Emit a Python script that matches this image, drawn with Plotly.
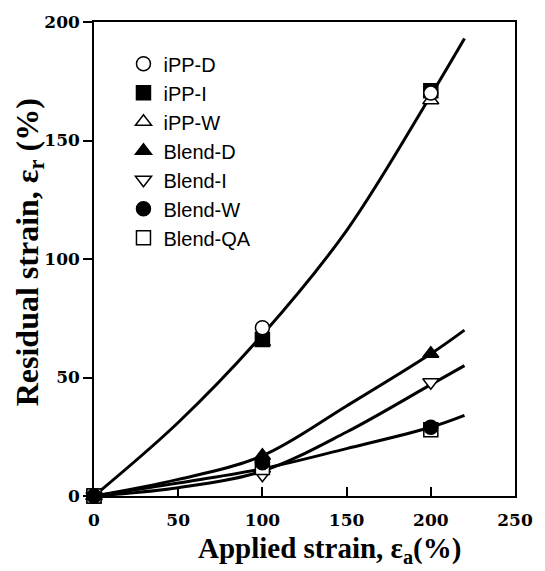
import plotly.graph_objects as go

# ---- data ----
applied_strain = [0, 100, 200]
ipp_d = [0, 71, 170]
ipp_i = [0, 66, 171]
ipp_w = [0, 65, 167]
blend_d = [0, 17, 60]
blend_i = [0, 9, 48]
blend_w = [0, 14, 29]
blend_qa = [0, 12, 28]

# smooth guide curves
curve_x = [0, 50, 100, 150, 200, 220]
curve_ipp = [0, 31, 68, 112, 169, 193]
curve_blend_d = [0, 7, 17, 38, 60, 70]
curve_blend_i = [0, 3.5, 10.5, 27, 47, 55]
curve_blend_w = [0, 5.5, 11.5, 20, 29, 34]

x_ticks = [0, 50, 100, 150, 200, 250]
y_ticks = [0, 50, 100, 150, 200]

fig = go.Figure()

for cy in [curve_ipp, curve_blend_d, curve_blend_i, curve_blend_w]:
    fig.add_trace(go.Scatter(x=curve_x, y=cy, mode="lines",
                             line=dict(color="black", width=3, shape="spline", smoothing=1.0),
                             showlegend=False, hoverinfo="skip", cliponaxis=False))

MS = 14
series = [
    # name, values, symbol, fill, rank
    ("iPP-W", ipp_w, "triangle-up", "white", 3),
    ("iPP-I", ipp_i, "square", "black", 2),
    ("iPP-D", ipp_d, "circle", "white", 1),
    ("Blend-D", blend_d, "triangle-up", "black", 4),
    ("Blend-I", blend_i, "triangle-down", "white", 5),
    ("Blend-QA", blend_qa, "square", "white", 7),
    ("Blend-W", blend_w, "circle", "black", 6),
]
for name, vals, sym, fill, rank in series:
    fig.add_trace(go.Scatter(x=applied_strain, y=vals, mode="markers", name=name,
                             legendrank=rank, cliponaxis=False,
                             marker=dict(symbol=sym, size=MS, color=fill,
                                         line=dict(color="black", width=1.5))))

tick_font = dict(family="DejaVu Serif", size=17, color="black", weight="bold")
fig.update_xaxes(range=[0, 250], tickvals=x_ticks, ticks="inside", ticklen=9, tickwidth=1.5,
                 tickcolor="black", showline=True, linecolor="black", linewidth=1.5,
                 mirror=True, showgrid=False, zeroline=False, tickfont=tick_font,
                 ticklabelstandoff=8)
fig.update_yaxes(range=[0, 200], tickvals=y_ticks, ticks="outside", ticklen=9, tickwidth=1.5,
                 tickcolor="black", showline=True, linecolor="black", linewidth=1.5,
                 mirror=True, showgrid=False, zeroline=False, tickfont=tick_font)

fig.add_annotation(text="<b>Applied strain, ε<sub>a</sub>(%)</b>", xref="paper", yref="paper",
                   x=0.56, y=-0.072, xanchor="center", yanchor="top", showarrow=False,
                   font=dict(family="Liberation Serif", size=29, color="black"))
fig.add_annotation(text="<b>Residual strain, ε<sub>r</sub> (%)</b>", xref="paper", yref="paper",
                   x=-0.1, y=0.515, xanchor="right", yanchor="middle", showarrow=False,
                   textangle=-90, font=dict(family="Liberation Serif", size=32, color="black"))

fig.update_layout(
    width=545, height=571,
    margin=dict(l=94, r=18, t=22, b=75),
    paper_bgcolor="white", plot_bgcolor="white",
    showlegend=True,
    legend=dict(x=0.07, y=0.953, xanchor="left", yanchor="top",
                font=dict(family="Liberation Sans", size=20, color="black"),
                bgcolor="rgba(0,0,0,0)", borderwidth=0, itemwidth=30,
                tracegroupgap=0),
)

fig.write_html("out.html")
